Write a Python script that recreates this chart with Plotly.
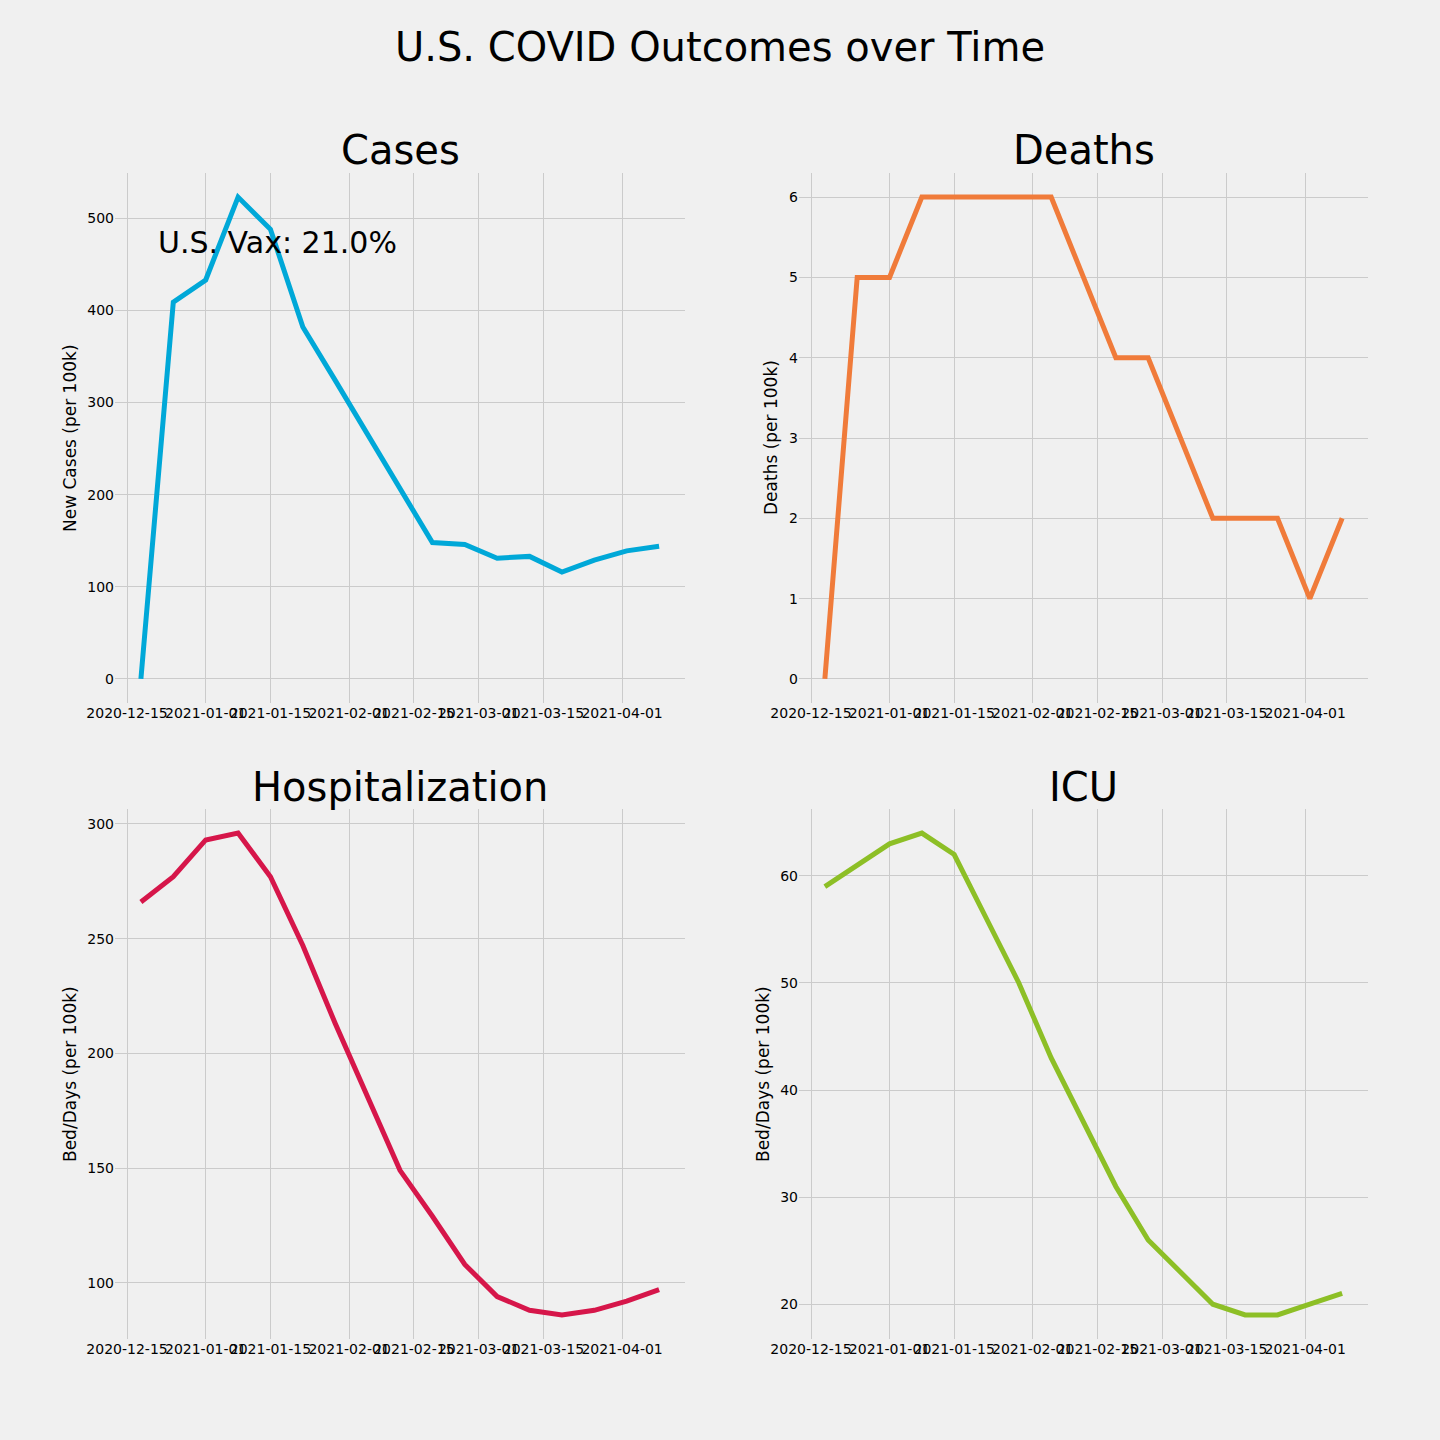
import plotly.graph_objects as go

# weekly dates
dates = ["2020-12-18", "2020-12-25", "2021-01-01", "2021-01-08", "2021-01-15",
         "2021-01-22", "2021-01-29", "2021-02-05", "2021-02-12", "2021-02-19",
         "2021-02-26", "2021-03-05", "2021-03-12", "2021-03-19", "2021-03-26",
         "2021-04-02", "2021-04-09"]

cases = [0, 409, 433, 523, 488, 382, 324, 266, 207, 148, 146, 131, 133, 116, 129, 139, 144]
deaths = [0, 5, 5, 6, 6, 6, 6, 6, 5, 4, 4, 3, 2, 2, 2, 1, 2]
hosp = [266, 277, 293, 296, 277, 247, 213, 181, 149, 129, 108, 94, 88, 86, 88, 92, 97]
icu = [59, 61, 63, 64, 62, 56, 50, 43, 37, 31, 26, 23, 20, 19, 19, 20, 21]

x_ticks = ["2020-12-15", "2021-01-01", "2021-01-15", "2021-02-01",
           "2021-02-15", "2021-03-01", "2021-03-15", "2021-04-01"]

vax_text = "U.S. Vax: 21.0%"

BG = "#f0f0f0"
GRID = "#cbcbcb"
FONT = "DejaVu Sans"
W = H = 1440

panels = [
    # name, values, color, ylabel, dtick, x domain px, y domain px, title y, ylabel x
    ("Cases", cases, "#00a8d8", "New Cases (per 100k)", 100, (115, 685), (173, 703), 150, 70),
    ("Deaths", deaths, "#f07b3a", "Deaths (per 100k)", 1, (799, 1368), (173, 703), 150, 771),
    ("Hospitalization", hosp, "#d6164a", "Bed/Days (per 100k)", 50, (115, 685), (809, 1339), 787, 70),
    ("ICU", icu, "#8dbf26", "Bed/Days (per 100k)", 10, (799, 1368), (809, 1339), 787, 763),
]

fig = go.Figure()
layout = {}
annotations = []

for i, (name, vals, color, ylabel, dt, xd, yd, ty, ylx) in enumerate(panels):
    n = "" if i == 0 else str(i + 1)
    fig.add_trace(go.Scatter(x=dates, y=vals, mode="lines",
                             line=dict(color=color, width=5),
                             xaxis="x" + n, yaxis="y" + n, showlegend=False))
    lo, hi = min(vals), max(vals)
    pad = 0.05 * (hi - lo)
    layout["xaxis" + n] = dict(
        domain=[xd[0] / W, xd[1] / W],
        anchor="y" + n,
        type="date",
        range=["2020-12-12 09:36", "2021-04-14 14:24"],
        tickmode="array", tickvals=x_ticks, ticktext=x_ticks,
        showgrid=True, gridcolor=GRID, gridwidth=1,
        zeroline=False, showline=False, ticks="",
        tickfont=dict(family=FONT, size=14, color="#000"),
        tickangle=0, automargin=False,
    )
    layout["yaxis" + n] = dict(
        domain=[1 - yd[1] / H, 1 - yd[0] / H],
        anchor="x" + n,
        range=[lo - pad, hi + pad],
        dtick=dt, tick0=0,
        showgrid=True, gridcolor=GRID, gridwidth=1,
        zeroline=False, showline=False, ticks="",
        tickfont=dict(family=FONT, size=14, color="#000"),
        automargin=False,
    )
    # subplot title
    annotations.append(dict(text=name, x=(xd[0] + xd[1]) / 2 / W, y=1 - ty / H,
                            xref="paper", yref="paper", xanchor="center", yanchor="middle",
                            showarrow=False, font=dict(family=FONT, size=40, color="#000")))
    # y axis label
    annotations.append(dict(text=ylabel, x=ylx / W, y=1 - (yd[0] + yd[1]) / 2 / H,
                            xref="paper", yref="paper", xanchor="center", yanchor="middle",
                            textangle=-90, showarrow=False,
                            font=dict(family=FONT, size=17, color="#000")))

annotations.append(dict(text=vax_text, x=156 / W, y=1 - 242 / H,
                        xref="paper", yref="paper", xanchor="left", yanchor="middle",
                        showarrow=False, font=dict(family=FONT, size=30, color="#000")))

fig.update_layout(
    **layout,
    annotations=annotations,
    title=dict(text="U.S. COVID Outcomes over Time", x=0.5, xanchor="center",
               y=1 - 47 / H, yanchor="middle",
               font=dict(family=FONT, size=40, color="#000")),
    width=W, height=H,
    margin=dict(l=0, r=0, t=0, b=0, autoexpand=False),
    paper_bgcolor=BG, plot_bgcolor=BG,
    showlegend=False,
)

fig.write_html("out.html", config={"displayModeBar": False},
               post_script="document.body.style.margin='0';")
